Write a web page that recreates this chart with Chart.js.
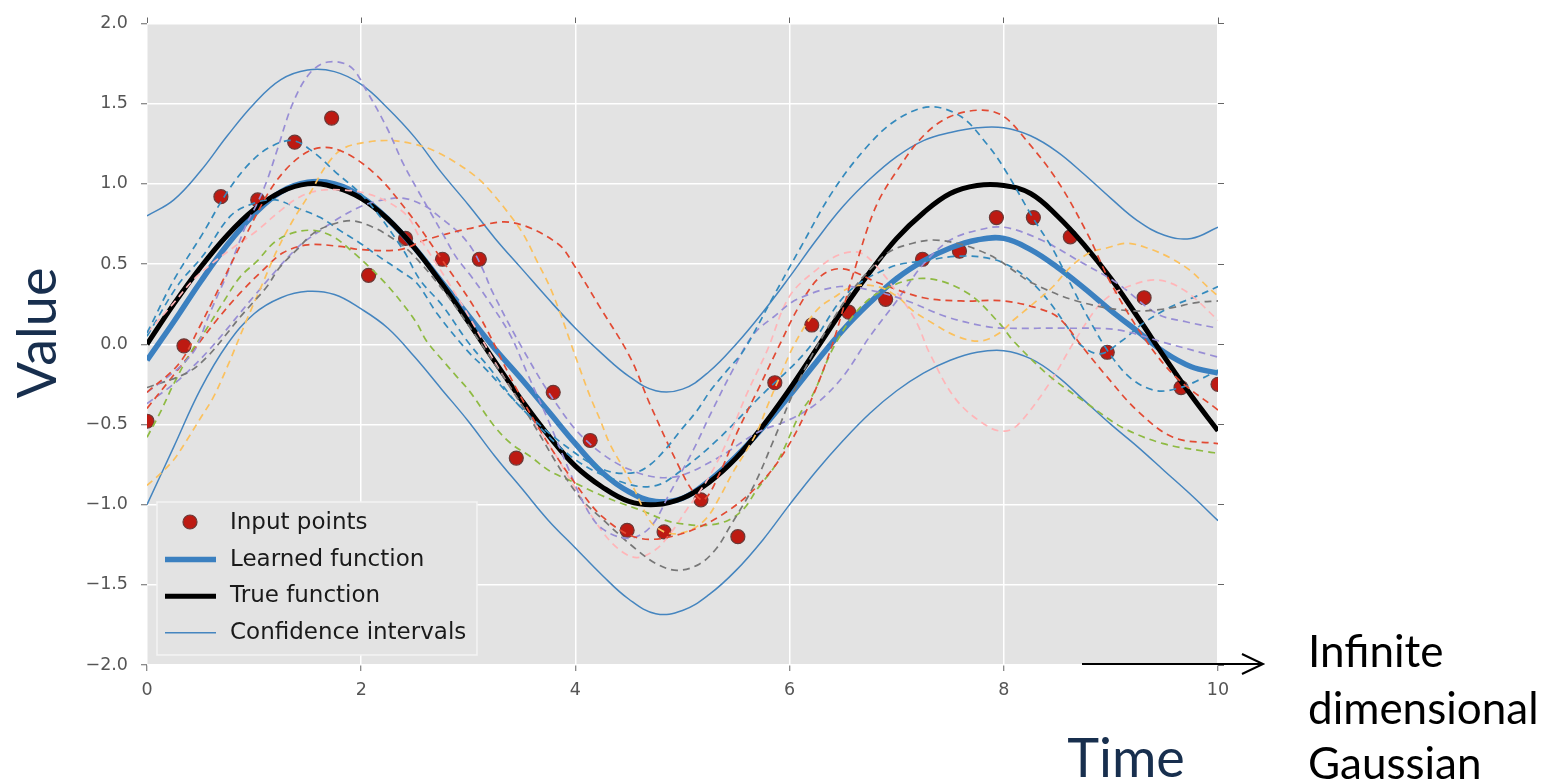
<!DOCTYPE html>
<html>
<head>
<meta charset="utf-8">
<title>Gaussian process regression</title>
<script src="https://cdn.jsdelivr.net/npm/chart.js@4.4.1/dist/chart.umd.min.js"></script>
<style>
  html, body { margin: 0; padding: 0; background: #fff; }
  #wrap { width: 1541px; height: 783px; overflow: hidden; }
  canvas { display: block; }
</style>
</head>
<body>
<div id="wrap"><canvas id="gp" width="1541" height="783"></canvas></div>
<script>
// x grid for the smooth curves
const fineX = [0, 0.25, 0.5, 0.75, 1, 1.25, 1.5, 1.75, 2, 2.25, 2.5, 2.75, 3, 3.25, 3.5, 3.75, 4, 4.25, 4.5, 4.75,
               5, 5.25, 5.5, 5.75, 6, 6.25, 6.5, 6.75, 7, 7.25, 7.5, 7.75, 8, 8.25, 8.5, 8.75, 9, 9.25, 9.5, 9.75, 10];

const trueY = [0, 0.25, 0.48, 0.68, 0.84, 0.95, 1.0, 0.98, 0.91, 0.78, 0.6, 0.38, 0.14, -0.11, -0.35, -0.57, -0.76, -0.89, -0.98, -1.0,
               -0.96, -0.86, -0.71, -0.51, -0.28, -0.03, 0.22, 0.45, 0.66, 0.82, 0.94, 0.99, 0.99, 0.94, 0.8, 0.62, 0.41, 0.17, -0.08, -0.32, -0.54];

const learnedY = [-0.1, 0.14, 0.39, 0.62, 0.81, 0.95, 1.01, 1.0, 0.92, 0.78, 0.6, 0.39, 0.18, -0.03, -0.22, -0.42, -0.62, -0.8, -0.92, -0.98,
                  -0.96, -0.85, -0.7, -0.52, -0.32, -0.11, 0.09, 0.26, 0.41, 0.52, 0.6, 0.65, 0.66, 0.59, 0.48, 0.35, 0.21, 0.08, -0.05, -0.14, -0.18];

const upperY = [0.8, 0.9, 1.08, 1.3, 1.5, 1.65, 1.71, 1.7, 1.62, 1.47, 1.29, 1.07, 0.87, 0.66, 0.47, 0.28, 0.1, -0.06, -0.2, -0.29,
                -0.28, -0.17, 0.0, 0.2, 0.42, 0.65, 0.86, 1.03, 1.17, 1.27, 1.32, 1.35, 1.35, 1.3, 1.2, 1.06, 0.91, 0.77, 0.68, 0.66, 0.73];

const lowerY = [-1.0, -0.64, -0.28, 0.0, 0.19, 0.29, 0.33, 0.31, 0.22, 0.1, -0.08, -0.28, -0.48, -0.7, -0.9, -1.1, -1.27, -1.44, -1.59, -1.68,
                -1.66, -1.56, -1.41, -1.22, -1.0, -0.79, -0.6, -0.43, -0.29, -0.18, -0.1, -0.05, -0.04, -0.09, -0.2, -0.35, -0.5, -0.64, -0.79, -0.94, -1.1];

// observed inputs
const pointsX = [0, 0.345, 0.69, 1.034, 1.379, 1.724, 2.069, 2.414, 2.759, 3.103, 3.448, 3.793, 4.138, 4.483, 4.828,
                 5.172, 5.517, 5.862, 6.207, 6.552, 6.897, 7.241, 7.586, 7.931, 8.276, 8.621, 8.966, 9.31, 9.655, 10];
const pointsY = [-0.48, -0.01, 0.92, 0.9, 1.26, 1.41, 0.43, 0.66, 0.53, 0.53, -0.71, -0.3, -0.6, -1.16, -1.17,
                 -0.97, -1.2, -0.24, 0.12, 0.2, 0.28, 0.53, 0.58, 0.79, 0.79, 0.67, -0.05, 0.29, -0.27, -0.25];

// posterior samples, [x, y]
const redSampleA = [[0,-0.3],[0.3,-0.12],[0.5,0.12],[0.68,0.36],[0.93,0.69],[1.21,1.02],[1.5,1.2],[1.75,1.22],[2.1,1.08],[2.43,0.83],
  [2.74,0.54],[3.1,0.18],[3.42,-0.24],[3.7,-0.57],[4.0,-0.87],[4.26,-1.08],[4.6,-1.21],[5.0,-1.18],[5.4,-1.05],[5.75,-0.85],
  [6.0,-0.62],[6.2,-0.35],[6.4,0.0],[6.6,0.45],[6.8,0.85],[7.0,1.08],[7.25,1.3],[7.5,1.42],[7.8,1.46],[8.0,1.42],[8.2,1.28],
  [8.5,1.02],[8.78,0.69],[9.0,0.38],[9.3,0.05],[9.6,-0.2],[10,-0.41]];
const blueSampleA = [[0,0.07],[0.25,0.4],[0.52,0.69],[0.75,0.95],[0.96,1.13],[1.15,1.23],[1.36,1.27],[1.55,1.2],[1.75,1.08],[2.05,0.9],
  [2.39,0.59],[2.55,0.4],[2.76,0.24],[2.99,0.02],[3.2,-0.15],[3.5,-0.4],[4.0,-0.68],[4.3,-0.79],[4.55,-0.8],[4.7,-0.75],[4.86,-0.64],
  [4.98,-0.54],[5.14,-0.41],[5.26,-0.29],[5.42,-0.16],[5.57,-0.04],[5.85,0.3],[6.1,0.6],[6.4,0.95],[6.72,1.23],[7.0,1.4],[7.31,1.48],
  [7.6,1.42],[7.84,1.25],[8.0,1.1],[8.27,0.79],[8.46,0.59],[8.65,0.34],[8.8,0.15],[9.0,-0.07],[9.2,-0.22],[9.43,-0.29],[9.65,-0.27],
  [9.83,-0.22],[10,-0.16]];
const purpleSampleA = [[0,-0.3],[0.2,-0.2],[0.34,-0.12],[0.46,-0.02],[0.56,0.15],[0.65,0.29],[0.75,0.44],[0.84,0.6],[0.93,0.75],
  [1.03,0.88],[1.12,1.02],[1.21,1.2],[1.36,1.5],[1.52,1.69],[1.69,1.76],[1.9,1.73],[2.05,1.58],[2.24,1.35],[2.39,1.13],[2.52,0.97],
  [2.64,0.83],[2.76,0.69],[2.89,0.54],[3.02,0.43],[3.2,0.26],[3.39,0.06],[3.55,-0.18],[3.75,-0.48],[3.95,-0.8],[4.1,-1.02],
  [4.25,-1.15],[4.5,-1.21],[4.7,-1.14],[4.88,-0.93],[5.1,-0.66],[5.28,-0.41],[5.47,-0.16],[5.66,0.06],[5.85,0.17],[6.07,0.28],
  [6.47,0.36],[6.8,0.33],[7.1,0.27],[7.47,0.17],[7.84,0.11],[8.03,0.1],[8.6,0.1],[9.06,0.09],[9.5,0.01],[10,-0.08]];
const graySample = [[0,-0.27],[0.37,-0.18],[0.56,-0.08],[0.75,0.07],[0.87,0.17],[0.99,0.26],[1.12,0.36],[1.24,0.48],[1.4,0.59],
  [1.55,0.69],[1.74,0.75],[1.92,0.77],[2.11,0.73],[2.27,0.67],[2.45,0.58],[2.75,0.35],[3.0,0.12],[3.5,-0.38],[4.0,-0.92],[4.3,-1.12],
  [4.57,-1.28],[4.76,-1.37],[4.95,-1.41],[5.16,-1.37],[5.32,-1.27],[5.44,-1.14],[5.66,-0.89],[5.85,-0.6],[6.03,-0.31],[6.2,-0.08],
  [6.4,0.15],[6.6,0.35],[6.8,0.5],[6.94,0.58],[7.15,0.63],[7.34,0.65],[7.56,0.63],[7.75,0.59],[7.94,0.53],[8.09,0.46],[8.27,0.38],
  [8.68,0.27],[9.15,0.21],[9.5,0.22],[9.8,0.26],[10,0.27]];
const yellowSample = [[0,-0.88],[0.12,-0.81],[0.25,-0.72],[0.37,-0.6],[0.5,-0.46],[0.62,-0.33],[0.75,-0.14],[0.93,0.15],[1.08,0.38],
  [1.21,0.58],[1.36,0.77],[1.52,0.94],[1.68,1.12],[1.83,1.22],[2.05,1.26],[2.27,1.27],[2.48,1.25],[2.67,1.21],[2.89,1.13],[3.08,1.04],
  [3.2,0.96],[3.36,0.83],[3.51,0.69],[3.64,0.52],[3.76,0.36],[3.86,0.19],[3.95,0.02],[4.04,-0.15],[4.14,-0.33],[4.23,-0.47],
  [4.32,-0.62],[4.42,-0.74],[4.54,-0.89],[4.63,-1.02],[4.72,-1.12],[4.88,-1.18],[5.07,-1.16],[5.23,-1.08],[5.35,-0.95],[5.47,-0.8],
  [5.6,-0.66],[5.7,-0.54],[5.79,-0.39],[5.91,-0.2],[6.03,-0.02],[6.16,0.13],[6.28,0.23],[6.41,0.29],[6.59,0.36],[6.82,0.36],[7.0,0.3],
  [7.15,0.21],[7.34,0.13],[7.56,0.05],[7.78,0.02],[7.96,0.07],[8.09,0.15],[8.27,0.25],[8.46,0.36],[8.62,0.48],[8.8,0.57],[8.96,0.6],
  [9.15,0.63],[9.34,0.6],[9.55,0.54],[9.74,0.46],[9.9,0.36],[10,0.3]];
const greenSample = [[0,-0.58],[0.12,-0.43],[0.24,-0.26],[0.4,-0.06],[0.56,0.1],[0.71,0.26],[0.87,0.42],[1.03,0.52],[1.18,0.63],
  [1.34,0.69],[1.55,0.71],[1.74,0.67],[1.93,0.57],[2.11,0.46],[2.24,0.37],[2.39,0.25],[2.52,0.13],[2.61,0.02],[2.76,-0.1],[2.89,-0.2],
  [3.02,-0.3],[3.23,-0.5],[3.4,-0.62],[3.58,-0.7],[3.76,-0.79],[3.95,-0.85],[4.2,-0.93],[4.42,-0.99],[4.63,-1.04],[4.85,-1.1],
  [5.0,-1.12],[5.2,-1.13],[5.42,-1.1],[5.58,-1.02],[5.69,-0.91],[5.88,-0.74],[6.1,-0.43],[6.22,-0.31],[6.41,-0.02],[6.66,0.23],
  [6.94,0.36],[7.28,0.41],[7.66,0.32],[7.96,0.13],[8.09,0.02],[8.43,-0.2],[8.78,-0.37],[9.11,-0.52],[9.49,-0.62],[9.9,-0.67],[10,-0.68]];
const pinkSample = [[0,0.07],[0.24,0.25],[0.43,0.4],[0.6,0.5],[0.8,0.6],[1.03,0.71],[1.24,0.83],[1.43,0.92],[1.62,0.96],[1.87,0.96],
  [2.05,0.94],[2.24,0.89],[2.43,0.8],[2.55,0.66],[2.8,0.4],[3.0,0.18],[3.3,-0.17],[3.5,-0.38],[3.75,-0.62],[4.0,-0.9],[4.2,-1.12],
  [4.39,-1.27],[4.57,-1.33],[4.75,-1.28],[4.91,-1.16],[5.04,-1.03],[5.16,-0.92],[5.28,-0.79],[5.42,-0.6],[5.6,-0.31],[5.79,-0.04],
  [6.0,0.3],[6.28,0.48],[6.47,0.56],[6.66,0.57],[6.82,0.48],[7.06,0.27],[7.19,0.13],[7.31,-0.06],[7.56,-0.35],[7.87,-0.52],
  [8.03,-0.54],[8.15,-0.49],[8.43,-0.24],[8.68,0.04],[8.93,0.27],[9.2,0.37],[9.45,0.4],[9.7,0.33],[10,0.15]];
const redSampleB = [[0,-0.4],[0.24,-0.2],[0.43,-0.04],[0.65,0.15],[0.87,0.32],[1.08,0.46],[1.27,0.57],[1.5,0.62],[1.8,0.61],[2.0,0.59],
  [2.36,0.59],[2.6,0.65],[3.0,0.72],[3.4,0.76],[3.83,0.63],[4.0,0.48],[4.23,0.23],[4.51,-0.08],[4.7,-0.38],[4.95,-0.74],[5.1,-0.92],
  [5.2,-0.97],[5.35,-0.8],[5.51,-0.55],[5.7,-0.29],[5.88,-0.04],[6.1,0.25],[6.3,0.43],[6.5,0.47],[6.84,0.38],[7.25,0.29],[7.6,0.27],
  [8.0,0.27],[8.34,0.22],[8.52,0.16],[8.75,-0.03],[8.96,-0.2],[9.24,-0.41],[9.58,-0.58],[10,-0.62]];
const blueSampleB = [[0,0.05],[0.29,0.37],[0.52,0.55],[0.78,0.8],[1.0,0.88],[1.2,0.9],[1.4,0.85],[1.62,0.79],[1.8,0.71],[1.99,0.63],
  [2.18,0.54],[2.36,0.46],[2.52,0.38],[2.71,0.19],[2.99,-0.04],[3.17,-0.16],[3.5,-0.4],[4.0,-0.72],[4.48,-0.87],[4.76,-0.88],
  [5.0,-0.78],[5.32,-0.6],[5.72,-0.33],[6.16,-0.04],[6.54,0.32],[6.94,0.48],[7.25,0.52],[7.6,0.55],[7.9,0.53],[8.1,0.47],[8.27,0.38],
  [8.43,0.26],[8.59,0.11],[8.71,0.0],[8.9,-0.06],[9.1,0.02],[9.3,0.13],[9.55,0.23],[9.8,0.3],[10,0.36]];
const purpleSampleB = [[0,-0.37],[0.3,-0.22],[0.6,-0.02],[1.0,0.3],[1.4,0.6],[1.62,0.71],[1.8,0.79],[2.0,0.86],[2.2,0.9],[2.4,0.91],
  [2.6,0.86],[2.74,0.79],[2.92,0.69],[3.04,0.59],[3.14,0.46],[3.23,0.32],[3.5,-0.02],[3.8,-0.35],[4.1,-0.6],[4.5,-0.78],[4.9,-0.83],
  [5.3,-0.72],[5.7,-0.55],[6.0,-0.47],[6.25,-0.37],[6.5,-0.2],[6.75,0.05],[7.0,0.27],[7.25,0.5],[7.5,0.65],[7.75,0.71],[8.0,0.73],
  [8.35,0.65],[8.7,0.52],[9.06,0.38],[9.43,0.19],[9.7,0.14],[10,0.1]];

const toXY = (xs, ys) => xs.map((x, i) => ({ x, y: ys[i] }));
const pairsToXY = pairs => pairs.map(([x, y]) => ({ x, y }));

Chart.defaults.font.family = "'DejaVu Sans', sans-serif";

function sampleLine(pairs, color) {
    return {
        data: pairsToXY(pairs),
        borderColor: color,
        borderWidth: 1.7,
        borderDash: [7, 5],
        pointRadius: 0,
        fill: false,
        tension: 0.35,
        order: 0
    };
}

function mainLine(label, xs, ys, color, width, order) {
    return {
        label,
        data: toXY(xs, ys),
        borderColor: color,
        borderWidth: width,
        pointRadius: 0,
        fill: false,
        tension: 0.4,
        order
    };
}

// grey panel behind the plot
const plotBackground = {
    id: 'plotBackground',
    beforeDraw(chart) {
        const { ctx, chartArea: a } = chart;
        ctx.save();
        ctx.fillStyle = '#e3e3e3';
        ctx.fillRect(a.left, a.top, a.right - a.left, a.bottom - a.top);
        ctx.restore();
    }
};

// legend box in the lower left corner of the plot
const cornerLegend = {
    id: 'cornerLegend',
    afterDatasetsDraw(chart) {
        const ctx = chart.ctx;
        const items = chart.data.datasets.filter(d => d.label);
        items.sort((a, b) => a.legendRank - b.legendRank);
        const box = { x: 157, y: 502, w: 320, h: 153 };
        ctx.save();
        ctx.fillStyle = '#e3e3e3';
        ctx.fillRect(box.x, box.y, box.w, box.h);
        ctx.strokeStyle = '#f4f4f4';
        ctx.lineWidth = 1.5;
        ctx.strokeRect(box.x, box.y, box.w, box.h);
        ctx.font = "23px 'DejaVu Sans'";
        ctx.textBaseline = 'middle';
        items.forEach((d, i) => {
            const cy = 522 + i * 36.6;
            if (d.type === 'scatter') {
                ctx.beginPath();
                ctx.arc(190, cy, d.pointRadius, 0, Math.PI * 2);
                ctx.fillStyle = d.backgroundColor;
                ctx.fill();
                ctx.lineWidth = d.pointBorderWidth;
                ctx.strokeStyle = d.pointBorderColor;
                ctx.stroke();
            } else {
                ctx.beginPath();
                ctx.moveTo(165, cy + 1);
                ctx.lineTo(216, cy + 1);
                ctx.lineWidth = d.borderWidth;
                ctx.strokeStyle = d.borderColor;
                ctx.stroke();
            }
            ctx.fillStyle = '#1a1a1a';
            ctx.fillText(d.label, 230, cy + 1);
        });
        ctx.restore();
    }
};

// axis titles, side note and arrow
const sideNotes = {
    id: 'sideNotes',
    afterDraw(chart) {
        const ctx = chart.ctx;
        ctx.save();
        ctx.fillStyle = '#182f4e';
        ctx.font = "54px Lato";
        ctx.textAlign = 'center';
        ctx.textBaseline = 'alphabetic';
        ctx.fillText('Time', 1126, 777);
        ctx.save();
        ctx.translate(56, 333);
        ctx.rotate(-Math.PI / 2);
        ctx.fillText('Value', 0, 0);
        ctx.restore();

        ctx.fillStyle = '#000';
        ctx.font = "44px Lato";
        ctx.textAlign = 'left';
        ctx.fillText('Infinite', 1308, 667);
        ctx.fillText('dimensional', 1308, 724);
        ctx.fillText('Gaussian', 1308, 779);

        ctx.strokeStyle = '#000';
        ctx.lineWidth = 2;
        ctx.beginPath();
        ctx.moveTo(1082, 664);
        ctx.lineTo(1262, 664);
        ctx.moveTo(1242, 654);
        ctx.lineTo(1263, 664);
        ctx.lineTo(1242, 674);
        ctx.stroke();
        ctx.restore();
    }
};

const minus = v => v.toFixed(1).replace('-', '\u2212');
const tickFont = { size: 17.5 };

new Chart(document.getElementById('gp'), {
    type: 'line',
    data: {
        datasets: [
            sampleLine(redSampleA, '#e24a33'),
            sampleLine(blueSampleA, '#348abd'),
            sampleLine(purpleSampleA, '#988ed5'),
            sampleLine(graySample, '#777777'),
            sampleLine(yellowSample, '#fbc15e'),
            sampleLine(greenSample, '#8eba42'),
            sampleLine(pinkSample, '#ffb5b8'),
            sampleLine(redSampleB, '#e24a33'),
            sampleLine(blueSampleB, '#348abd'),
            sampleLine(purpleSampleB, '#988ed5'),
            Object.assign(mainLine('Confidence intervals', fineX, upperY, '#4585bf', 1.5, 1), { legendRank: 3 }),
            mainLine(null, fineX, lowerY, '#4585bf', 1.5, 1),
            Object.assign(mainLine('True function', fineX, trueY, '#000000', 5, 2), { legendRank: 2 }),
            Object.assign(mainLine('Learned function', fineX, learnedY, '#3b80c0', 5.5, 3), { legendRank: 1 }),
            {
                type: 'scatter',
                label: 'Input points',
                legendRank: 0,
                data: toXY(pointsX, pointsY),
                backgroundColor: '#bd1a12',
                pointBorderColor: '#6a3a38',
                pointBorderWidth: 1.2,
                pointRadius: 7,
                showLine: false,
                order: 4
            }
        ]
    },
    options: {
        responsive: false,
        animation: false,
        devicePixelRatio: 1,
        events: [],
        layout: { padding: { left: 0, right: 316, top: 16, bottom: 0 } },
        scales: {
            x: {
                type: 'linear', position: 'bottom', min: 0, max: 10,
                ticks: { stepSize: 2, padding: 9, color: '#555', font: tickFont, maxRotation: 0 },
                grid: { color: '#ffffff', lineWidth: 1.5, tickLength: 6, tickColor: '#666', tickWidth: 1 },
                border: { display: false },
                afterFit: s => { s.height = 118; }
            },
            xTop: {
                type: 'linear', position: 'top', min: 0, max: 10,
                ticks: { stepSize: 2, display: false },
                grid: { drawOnChartArea: false, tickLength: 6, tickColor: '#666', tickWidth: 1 },
                border: { display: false },
                afterFit: s => { s.height = 7; }
            },
            y: {
                type: 'linear', position: 'left', min: -2, max: 2,
                ticks: { stepSize: 0.5, padding: 13, color: '#555', font: tickFont, callback: minus },
                grid: { color: '#ffffff', lineWidth: 1.5, tickLength: 6, tickColor: '#666', tickWidth: 1 },
                border: { display: false },
                afterFit: s => { s.width = 147; }
            },
            yRight: {
                type: 'linear', position: 'right', min: -2, max: 2,
                ticks: { stepSize: 0.5, display: false },
                grid: { drawOnChartArea: false, tickLength: 6, tickColor: '#666', tickWidth: 1 },
                border: { display: false },
                afterFit: s => { s.width = 7; }
            }
        },
        plugins: {
            legend: { display: false },
            tooltip: { enabled: false }
        }
    },
    plugins: [plotBackground, cornerLegend, sideNotes]
});
</script>
</body>
</html>
